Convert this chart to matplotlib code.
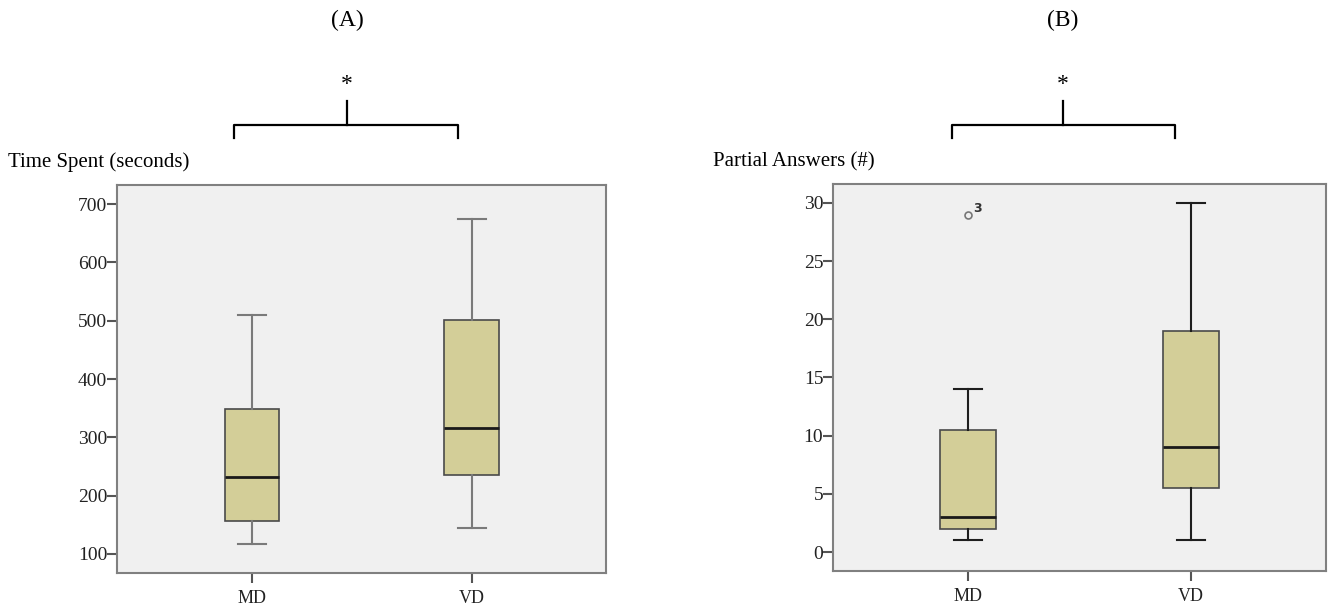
import matplotlib
matplotlib.use("Agg")
import matplotlib.pyplot as plt

# ========= DATA =========
groups = ["MD", "VD"]

# (A) time spent, seconds
time_low = [117, 145]
time_q1 = [157, 236]
time_med = [231, 316]
time_q3 = [348, 502]
time_high = [510, 674]
time_ticks = [100, 200, 300, 400, 500, 600, 700]

# (B) partial answers, count
part_low = [1, 1]
part_q1 = [2, 5.5]
part_med = [3, 9]
part_q3 = [10.5, 19]
part_high = [14, 30]
part_fliers = [[29], []]
flier_labels = ["3"]
part_ticks = [0, 5, 10, 15, 20, 25, 30]

plt.rcParams["font.family"] = ["Liberation Serif", "DejaVu Serif"]

W, H = 1330, 609
fig = plt.figure(figsize=(W / 100, H / 100), dpi=100)


def px_axes(x0, y0, x1, y1):
    return fig.add_axes([x0 / W, 1 - y1 / H, (x1 - x0) / W, (y1 - y0) / H])


def make_stats(low, q1, med, q3, high, fliers=None):
    out = []
    for i in range(len(low)):
        out.append({
            "whislo": low[i], "q1": q1[i], "med": med[i], "q3": q3[i],
            "whishi": high[i], "fliers": fliers[i] if fliers else [],
        })
    return out


BOX_FILL = "#d3ce98"
BG = "#f0f0f0"


def draw_panel(ax, stats, ticks, ylim, whisk_col, xlim):
    ax.set_facecolor(BG)
    ax.bxp(
        stats, positions=[1, 2], widths=0.25, patch_artist=True,
        boxprops=dict(facecolor=BOX_FILL, edgecolor="#4a4a4a", linewidth=1.2),
        medianprops=dict(color="#1a1a1a", linewidth=2),
        whiskerprops=dict(color=whisk_col, linewidth=1.5),
        capprops=dict(color=whisk_col, linewidth=1.5),
        flierprops=dict(marker="o", markersize=5, markerfacecolor="none",
                        markeredgecolor="#777777", markeredgewidth=1.2),
    )
    ax.set_xlim(*xlim)
    ax.set_ylim(*ylim)
    ax.set_yticks(ticks)
    ax.set_xticks([1, 2])
    ax.set_xticklabels(groups, fontsize=13)
    for s in ax.spines.values():
        s.set_color("#808080")
        s.set_linewidth(1.5)
    ax.tick_params(axis="both", length=7, width=1.5, color="#555555",
                   labelcolor="#222222")
    ax.tick_params(axis="x", pad=5)
    ax.tick_params(axis="y", labelsize=14, pad=0)


# ========= (A) =========
axA = px_axes(117, 185, 606, 573)
draw_panel(axA, make_stats(time_low, time_q1, time_med, time_q3, time_high),
           time_ticks, (67, 733), "#7a7a7a", (0.386, 2.61))

# ========= (B) =========
axB = px_axes(833, 184, 1326, 571)
draw_panel(axB, make_stats(part_low, part_q1, part_med, part_q3, part_high, part_fliers),
           part_ticks, (-1.63, 31.63), "#1e1e1e", (0.395, 2.605))
axB.annotate(flier_labels[0], xy=(1, part_fliers[0][0]), xytext=(4, 2),
             textcoords="offset points", fontsize=9, fontweight="bold",
             color="#333333", family="DejaVu Sans")

# ========= titles, axis labels, significance brackets =========
fig.text(8 / W, 1 - 162 / H, "Time Spent (seconds)", fontsize=15, va="center", ha="left")
fig.text(713 / W, 1 - 162 / H, "Partial Answers (#)", fontsize=15, va="center", ha="left")

for cx, lab, xl, xr in [(347, "(A)", 234, 458), (1063, "(B)", 952, 1175)]:
    fig.text(cx / W, 1 - 20 / H, lab, fontsize=17, ha="center", va="center")
    fig.text(cx / W, 1 - 84 / H, "*", fontsize=17, ha="center", va="center")
    yb, yt, yd = 1 - 125 / H, 1 - 101 / H, 1 - 138 / H
    fig.add_artist(plt.Line2D([xl / W, xl / W, xr / W, xr / W], [yd, yb, yb, yd],
                              color="black", linewidth=1.6))
    fig.add_artist(plt.Line2D([cx / W, cx / W], [yb, yt], color="black", linewidth=1.6))

fig.savefig("out.png", dpi=100)
